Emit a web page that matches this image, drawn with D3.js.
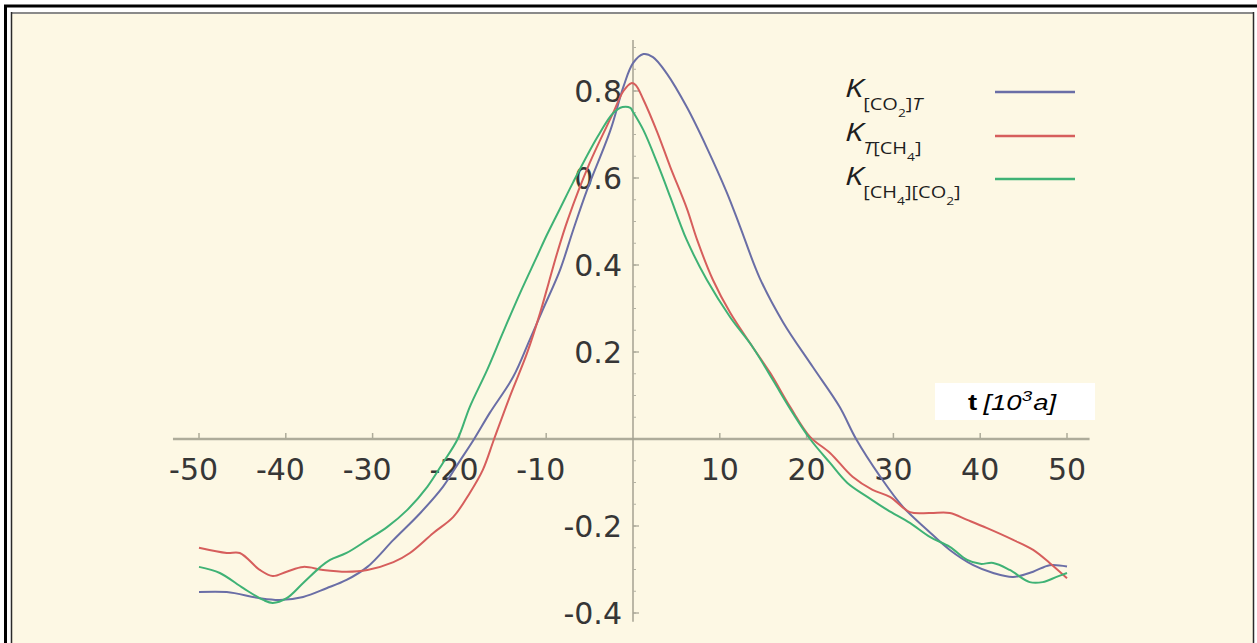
<!DOCTYPE html>
<html>
<head>
<meta charset="utf-8">
<script src="https://cdn.jsdelivr.net/npm/d3@7"></script>
<style>
  html, body { margin: 0; padding: 0; background: #ffffff; }
  svg { display: block; }
</style>
</head>
<body>
<svg id="chart" width="1257" height="643"></svg>
<script>
// Time axis in thousands of years, correlation values per pair of records
const xTicks = [-50, -40, -30, -20, -10, 10, 20, 30, 40, 50];
const yTicks = [-0.4, -0.2, 0.2, 0.4, 0.6, 0.8];
const yTickLabels = ["-0.4", "-0.2", "0.2", "0.4", "0.6", "0.8"];

// K[CO2]T
const tCO2T = [-50, -46.8, -43, -40.7, -38, -35.3, -33, -30.6, -27.6, -24.5, -21.9, -20, -18.3, -16.5, -13.8, -11.9, -10.4, -8.4, -6.9, -5.3, -2.6, -1.1, 0, 1.2, 2.3, 3.9, 6.2, 8.5, 10.8, 12.3, 14.6, 17.3, 20.7, 23.8, 25.7, 28.5, 31.1, 33.9, 36.5, 39.2, 41.5, 43.8, 46.1, 48, 50];
const vCO2T = [-0.352, -0.352, -0.366, -0.370, -0.363, -0.343, -0.324, -0.294, -0.232, -0.170, -0.110, -0.052, 0.0, 0.060, 0.143, 0.228, 0.297, 0.389, 0.480, 0.572, 0.710, 0.810, 0.864, 0.885, 0.878, 0.840, 0.763, 0.670, 0.567, 0.490, 0.370, 0.268, 0.166, 0.074, 0.0, -0.087, -0.156, -0.209, -0.255, -0.290, -0.308, -0.317, -0.305, -0.290, -0.293];

// K T[CH4]
const tTCH4 = [-50, -46.8, -45.3, -43, -41.5, -39.9, -38, -35.7, -33, -30.6, -27.6, -25.7, -23, -20.7, -18.8, -17.3, -16, -14.2, -12.2, -10.7, -9.7, -8.7, -7.5, -5, -2.3, -1.1, -0.2, 0.3, 1.2, 2.8, 4.3, 6.2, 7.4, 9.2, 11.2, 13.8, 15.8, 18.1, 20.4, 22.7, 25.3, 27.6, 29.6, 31.9, 34.2, 36.5, 38.5, 40.8, 43.8, 46.1, 48, 50];
const vTCH4 = [-0.250, -0.262, -0.262, -0.301, -0.315, -0.305, -0.294, -0.301, -0.305, -0.301, -0.283, -0.262, -0.216, -0.179, -0.124, -0.071, 0.0, 0.097, 0.198, 0.290, 0.360, 0.430, 0.505, 0.634, 0.749, 0.800, 0.818, 0.814, 0.780, 0.705, 0.625, 0.530, 0.457, 0.366, 0.290, 0.211, 0.152, 0.074, 0.005, -0.032, -0.087, -0.117, -0.133, -0.168, -0.170, -0.170, -0.186, -0.205, -0.232, -0.255, -0.285, -0.320];

// K [CH4][CO2]
const tCH4CO2 = [-50, -47.6, -44.9, -42.6, -41.5, -39.9, -38, -36, -34.9, -33, -30.6, -28.3, -26, -23.7, -21.9, -20.2, -18.8, -16.8, -15, -13, -11.1, -9.9, -8.4, -6.9, -4.1, -2.3, -1.2, -0.3, 0, 1.2, 2.8, 4.3, 5.4, 6.2, 8.5, 11.2, 13.8, 16.1, 18.4, 20.4, 22.7, 24.7, 27, 29.3, 31.9, 34.2, 36.5, 38.5, 40, 41.5, 43.4, 45.7, 47.2, 48.8, 50];
const vCH4CO2 = [-0.294, -0.308, -0.343, -0.370, -0.377, -0.366, -0.331, -0.294, -0.278, -0.262, -0.232, -0.202, -0.163, -0.110, -0.055, 0.0, 0.074, 0.159, 0.244, 0.336, 0.418, 0.470, 0.530, 0.590, 0.694, 0.749, 0.763, 0.761, 0.752, 0.710, 0.634, 0.556, 0.497, 0.457, 0.366, 0.280, 0.211, 0.136, 0.060, 0.0, -0.055, -0.101, -0.133, -0.163, -0.193, -0.225, -0.248, -0.278, -0.287, -0.285, -0.301, -0.329, -0.329, -0.317, -0.308];

const seriesColors = ["#6a6ea6", "#d65e5c", "#3fb275"];

const series = [
  { t: tCO2T, v: vCO2T, color: seriesColors[0] },
  { t: tTCH4, v: vTCH4, color: seriesColors[1] },
  { t: tCH4CO2, v: vCH4CO2, color: seriesColors[2] }
];

const svg = d3.select("#chart");

// Page frame: black outer rule, then the cream panel with bevelled edges
svg.append("rect").attr("x", 0).attr("y", 0).attr("width", 1257).attr("height", 643).attr("fill", "#ffffff");
svg.append("rect").attr("x", 11).attr("y", 12).attr("width", 1243).attr("height", 640).attr("fill", "#fdf8e4");
svg.append("line").attr("x1", 4).attr("y1", 6).attr("x2", 1257).attr("y2", 6).attr("stroke", "#000").attr("stroke-width", 3);
svg.append("line").attr("x1", 5.5).attr("y1", 5).attr("x2", 5.5).attr("y2", 643).attr("stroke", "#000").attr("stroke-width", 3);
svg.append("line").attr("x1", 11).attr("y1", 13).attr("x2", 1254).attr("y2", 13).attr("stroke", "#8a8a8a").attr("stroke-width", 2);
svg.append("line").attr("x1", 11.5).attr("y1", 12).attr("x2", 11.5).attr("y2", 643).attr("stroke", "#2a2a2a").attr("stroke-width", 1.5);
svg.append("line").attr("x1", 1253.5).attr("y1", 12).attr("x2", 1253.5).attr("y2", 643).attr("stroke", "#2a2a2a").attr("stroke-width", 1.5);

// Scales
const x = d3.scaleLinear().domain([-50, 50]).range([199, 1067]);
const y = d3.scaleLinear().domain([-0.4, 0.8]).range([613, 91]);

const axisColor = "#aeac9a";
const labelColor = "#363636";
const labelFont = "'DejaVu Sans', sans-serif";

// Horizontal axis
svg.append("line")
  .attr("x1", x(-53)).attr("x2", x(52.6))
  .attr("y1", y(0)).attr("y2", y(0))
  .attr("stroke", axisColor).attr("stroke-width", 2.5);

// Vertical axis
svg.append("line")
  .attr("x1", x(0)).attr("x2", x(0))
  .attr("y1", y(0.917)).attr("y2", y(-0.42))
  .attr("stroke", "#a4a292").attr("stroke-width", 1.5);

// x ticks
svg.selectAll(".xtick").data(xTicks).enter().append("line")
  .attr("x1", d => x(d)).attr("x2", d => x(d))
  .attr("y1", y(0) - 6).attr("y2", y(0))
  .attr("stroke", axisColor).attr("stroke-width", 1.5);

// y ticks, major and minor
const yMinor = d3.range(-0.4, 0.9001, 0.05).filter(v => Math.abs(v) > 1e-6);
svg.selectAll(".yminor").data(yMinor).enter().append("line")
  .attr("x1", x(0)).attr("x2", x(0) + 3)
  .attr("y1", d => y(d)).attr("y2", d => y(d))
  .attr("stroke", "#b4b2a2").attr("stroke-width", 1);
svg.selectAll(".ymajor").data(yTicks).enter().append("line")
  .attr("x1", x(0)).attr("x2", x(0) + 6)
  .attr("y1", d => y(d)).attr("y2", d => y(d))
  .attr("stroke", "#a4a292").attr("stroke-width", 1.2);

// width of a minus sign, so negative labels keep their digits centred on the tick
const probe = svg.append("text").attr("font-family", labelFont).attr("font-size", 30).text("-");
const minusW = probe.node().getComputedTextLength();
probe.remove();

svg.selectAll(".xlab").data(xTicks).enter().append("text")
  .attr("x", d => x(d) - (d < 0 ? minusW / 2 : 0))
  .attr("y", y(0) + 41)
  .attr("text-anchor", "middle")
  .attr("font-family", labelFont)
  .attr("font-size", 30)
  .attr("fill", labelColor)
  .text(d => String(d));

svg.selectAll(".ylab").data(yTicks).enter().append("text")
  .attr("x", x(0) - 11)
  .attr("y", d => y(d) + 11)
  .attr("text-anchor", "end")
  .attr("font-family", labelFont)
  .attr("font-size", 30)
  .attr("fill", labelColor)
  .text((d, i) => yTickLabels[i]);

// Curves
const line = d3.line()
  .x(d => x(d[0]))
  .y(d => y(d[1]))
  .curve(d3.curveCatmullRom.alpha(0.5));

series.forEach(s => {
  svg.append("path")
    .datum(d3.zip(s.t, s.v))
    .attr("fill", "none")
    .attr("stroke", s.color)
    .attr("stroke-width", 2)
    .attr("stroke-linejoin", "round")
    .attr("d", line);
});

// Legend: K with nested subscripts, and a line sample per series
const legendFont = "'Open Sans', sans-serif";
const legendRows = [
  [ { s: "K", size: 26, it: true, dy: 0 }, { s: "[CO", size: 16, dy: 13 }, { s: "2", size: 11, dy: 7 }, { s: "]", size: 16, dy: -7 }, { s: "T", size: 16, it: true, dy: 0 } ],
  [ { s: "K", size: 26, it: true, dy: 0 }, { s: "T", size: 16, it: true, dy: 13 }, { s: "[CH", size: 16, dy: 0 }, { s: "4", size: 11, dy: 7 }, { s: "]", size: 16, dy: -7 } ],
  [ { s: "K", size: 26, it: true, dy: 0 }, { s: "[CH", size: 16, dy: 13 }, { s: "4", size: 11, dy: 7 }, { s: "][CO", size: 16, dy: -7 }, { s: "2", size: 11, dy: 7 }, { s: "]", size: 16, dy: -7 } ]
];
const legendBaselines = [97, 141, 185];
const legendLineY = [92, 136, 179];

legendRows.forEach((runs, i) => {
  const t = svg.append("text")
    .attr("transform", `translate(845,${legendBaselines[i]}) scale(1.25,1)`)
    .attr("font-family", legendFont)
    .attr("fill", "#1e1e1e");
  runs.forEach(r => {
    t.append("tspan")
      .attr("dy", r.dy)
      .attr("font-size", r.size)
      .attr("font-style", r.it ? "italic" : "normal")
      .text(r.s);
  });
  svg.append("line")
    .attr("x1", 995).attr("x2", 1075)
    .attr("y1", legendLineY[i]).attr("y2", legendLineY[i])
    .attr("stroke", seriesColors[i]).attr("stroke-width", 2.5);
});

// Axis title box
svg.append("rect").attr("x", 935).attr("y", 383).attr("width", 160).attr("height", 37).attr("fill", "#ffffff");
const tt = svg.append("text")
  .attr("transform", "translate(968,410) scale(1.25,1)")
  .attr("font-family", "'Liberation Sans', Arial, sans-serif")
  .attr("font-size", 22)
  .attr("fill", "#000");
tt.append("tspan").attr("font-weight", "bold").text("t");
tt.append("tspan").attr("font-style", "italic").attr("dx", 5).text("[10");
tt.append("tspan").attr("font-style", "italic").attr("font-size", 15).attr("dy", -9).text("3");
tt.append("tspan").attr("font-style", "italic").attr("dy", 9).attr("dx", 1).text("a]");
</script>
</body>
</html>
